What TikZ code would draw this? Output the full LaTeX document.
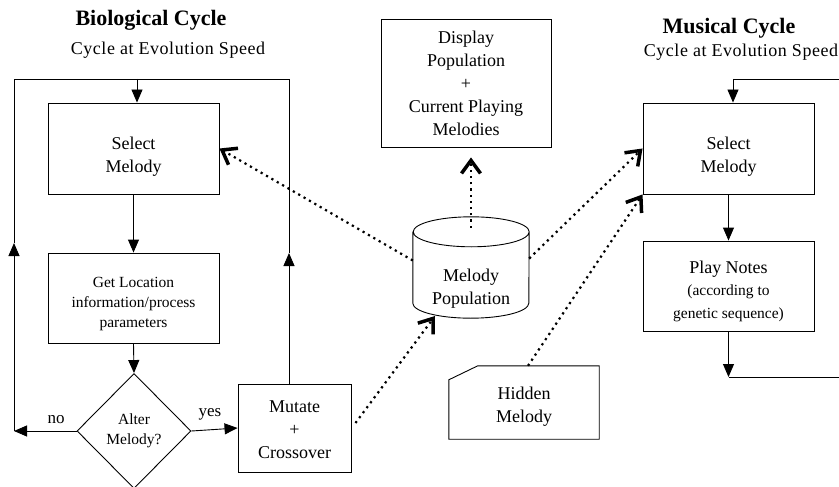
\documentclass[tikz,border=0pt]{standalone}
\usepackage{fontspec}
\setmainfont{Liberation Serif}
\usetikzlibrary{arrows.meta,shapes.geometric,calc}
\begin{document}
\begin{tikzpicture}[x=1pt,y=-1pt,
  box/.style={draw, line width=0.9pt, inner sep=0pt, align=center, font=\fontsize{18}{23}\selectfont},
  small/.style={font=\fontsize{15.5}{20}\selectfont},
  flow/.style={line width=0.9pt, -{Triangle[width=11pt,length=13pt]}},
  plain/.style={line width=0.9pt},
  dot/.style={line width=2.2pt, dash pattern=on 2.2pt off 4pt, -{Straight Barb[length=13pt,width=19pt,line width=3.5pt]}},
  title/.style={font=\fontsize{22}{26}\selectfont\bfseries},
  sub/.style={font=\fontsize{18}{22}\selectfont\addfontfeatures{LetterSpace=3}},
  lbl/.style={font=\fontsize{17}{20}\selectfont}]
\useasboundingbox (0,0) rectangle (839,487);

% titles
\node[title] (biot) at (151,20) {Biological Cycle};
\node[sub] (bios) at (168,50) {Cycle at Evolution Speed};
\node[title] (must) at (729,28) {Musical Cycle};
\node[sub] (muss) at (741,52) {Cycle at Evolution Speed};

% biological cycle
\node[box, minimum width=171pt, minimum height=91pt] (sel1) at (133.5,148.5) {\rule{0pt}{29pt}Select\\Melody};
\node[box, small, minimum width=171pt, minimum height=90pt] (get) at (133.5,298) {\rule{0pt}{23pt}Get Location\\information/process\\parameters};
\node[draw, diamond, line width=0.9pt, minimum width=114pt, minimum height=115pt, inner sep=0pt, align=center, small] (dia) at (134,431) {Alter\\Melody?};
\node[box, minimum width=113pt, minimum height=88pt] (mut) at (294.5,428) {\rule{0pt}{16pt}Mutate\\+\\Crossover};
\node[lbl] (no) at (56,420) {no};
\node[lbl] (yes) at (210,414) {yes};

\coordinate (tl) at (14,79);
\coordinate (tr) at (289,79);
\coordinate (lmid) at (14,243);
\coordinate (noend) at (14,431);
\coordinate (rmid) at (289,253);
\coordinate (topin) at (137,79);

\draw[flow] (topin) -- (topin |- sel1.north);
\draw[flow] (sel1.south) -- (get.north);
\draw[flow] (get.south) -- (dia.north);
\draw[flow] (dia.east) -- (mut.west);
\draw[flow] (dia.west) -- (noend);
\draw[flow] (noend) -- (lmid);
\draw[plain] (lmid) -- (tl) -- (tr) -- (rmid);
\draw[flow] (mut.north -| rmid) -- (rmid);

% centre
\node[box, minimum width=170pt, minimum height=128pt] (disp) at (466,83) {Display\\Population\\+\\Current Playing\\Melodies};
\node[minimum width=116pt, minimum height=71pt, inner sep=0pt] (cyl) at (471,267.5) {};
\draw[plain] (cyl.north west) -- (cyl.south west)
  arc[start angle=180, end angle=360, x radius=58pt, y radius=15pt] -- (cyl.north east)
  arc[start angle=0, end angle=360, x radius=58pt, y radius=15pt];
\node[box, draw=none] (cyltext) at (471,289) {Melody\\Population};
\coordinate (cylbot) at (435,316);

\node[minimum width=150pt, minimum height=73pt, inner sep=0pt] (hid) at (524,402.5) {};
\draw[plain] ($(hid.north west)+(0,14)$) -- ($(hid.north west)+(29,0)$) -- (hid.north east) -- (hid.south east) -- (hid.south west) -- cycle;
\node[box, draw=none] (hidtext) at (524,407) {Hidden\\Melody};

% musical cycle
\node[box, minimum width=171pt, minimum height=91pt] (sel2) at (728.5,148.5) {\rule{0pt}{29pt}Select\\Melody};
\node[box, minimum width=171pt, minimum height=90pt] (play) at (728.5,286) {\rule{0pt}{24pt}Play Notes\\[-1pt]\fontsize{15.5}{19}\selectfont (according to\\\fontsize{15.5}{19}\selectfont genetic sequence)};
\coordinate (mtr) at (839,79);
\coordinate (mtop) at (733,79);
\coordinate (mbot) at (728.5,377);
\coordinate (mbr) at (839,377);
\draw[plain] (mtr) -- (mtop);
\draw[flow] (mtop) -- (mtop |- sel2.north);
\draw[flow] (sel2.south) -- (play.north);
\draw[flow] (play.south) -- (mbot);
\draw[plain] (mbot) -- (mbr);

% dotted connectors
\draw[dot] ($(cyl.west)+(0,-7)$) -- (sel1.east);
\draw[dot] ($(cyl.east)+(0,-9)$) -- (sel2.west);
\draw[dot] ($(mut.east)+(4,-5)$) -- (cylbot);
\draw[dot] ($(hid.north)+(4,0)$) -- (sel2.south west);
\draw[dot] ($(cyl.north)+(0,-4)$) -- ($(cyl.north |- disp.south)+(0,10)$);
\end{tikzpicture}
\end{document}
